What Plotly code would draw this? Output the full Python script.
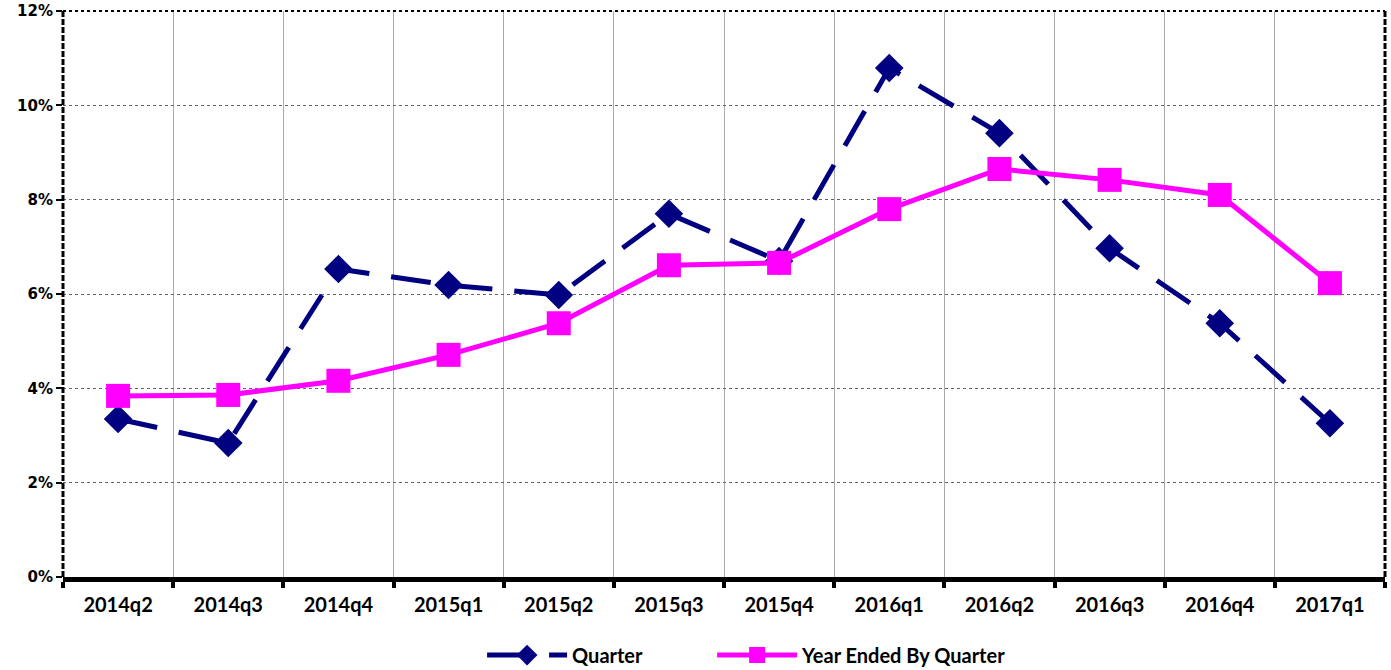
import plotly.graph_objects as go

categories = ["2014q2", "2014q3", "2014q4", "2015q1", "2015q2", "2015q3",
              "2015q4", "2016q1", "2016q2", "2016q3", "2016q4", "2017q1"]
quarter = [3.35, 2.84, 6.53, 6.19, 5.98, 7.70, 6.70, 10.79, 9.41, 6.97, 5.38, 3.26]
year_ended = [3.84, 3.86, 4.16, 4.71, 5.38, 6.61, 6.66, 7.80, 8.65, 8.42, 8.10, 6.23]
y_ticks = [0, 2, 4, 6, 8, 10, 12]
y_labels = ["0%", "2%", "4%", "6%", "8%", "10%", "12%"]

label_font = "Lato, Carlito, Calibri, sans-serif"
ytick_font = dict(family="DejaVu Sans, Verdana, sans-serif", size=15, color="black", weight="bold")

fig = go.Figure()
fig.add_trace(go.Scatter(
    x=categories, y=quarter, name="Quarter", mode="lines+markers", legend="legend",
    line=dict(color="#000080", width=5, dash="40px,22px"),
    marker=dict(symbol="diamond", size=22, color="#000080"),
))
fig.add_trace(go.Scatter(
    x=categories, y=year_ended, name="Year Ended By Quarter", mode="lines+markers", legend="legend2",
    line=dict(color="#FF00FF", width=5),
    marker=dict(symbol="square", size=24, color="#FF00FF"),
))

legend_font = dict(family=label_font, size=20, color="black", weight="bold")
fig.update_layout(
    width=1391, height=670,
    margin=dict(l=63, r=6, t=11, b=93, autoexpand=False),
    plot_bgcolor="white", paper_bgcolor="white",
    showlegend=True,
    legend=dict(orientation="h", x=0.317, xanchor="left", y=-0.138, yanchor="middle",
                font=legend_font, itemwidth=80),
    legend2=dict(orientation="h", x=0.491, xanchor="left", y=-0.138, yanchor="middle",
                 font=legend_font, itemwidth=80),
    xaxis=dict(
        type="category", tickson="boundaries", ticks="outside", ticklen=6, tickwidth=4,
        tickcolor="black", showgrid=True, gridcolor="#aaaaaa", gridwidth=1,
        showline=True, linecolor="black", linewidth=5, automargin=False,
        tickfont=dict(family=label_font, size=20, color="black", weight="bold"),
        range=[-0.5, 11.5],
    ),
    yaxis=dict(
        range=[0, 12], tickvals=y_ticks, ticktext=y_labels, ticks="outside", ticklen=6,
        tickcolor="black", tickwidth=2, showgrid=True, gridcolor="#666666", gridwidth=1, griddash="dot",
        showline=False, zeroline=False, automargin=False,
        tickfont=ytick_font,
    ),
    font=dict(family="DejaVu Sans", color="black"),
)
fig.update_xaxes(ticklabelstandoff=6)

# frame: dashed left/right, dotted top
fig.add_shape(type="line", xref="paper", yref="paper", x0=0, x1=0, y0=0, y1=1,
              line=dict(color="black", width=3, dash="6px,2px"))
fig.add_shape(type="line", xref="paper", yref="paper", x0=1, x1=1, y0=0, y1=1,
              line=dict(color="black", width=3, dash="6px,2px"))
fig.add_shape(type="line", xref="paper", yref="paper", x0=0, x1=1, y0=1, y1=1,
              line=dict(color="black", width=2, dash="3px,3px"))

fig.write_html("out.html", config={"displayModeBar": False},
               post_script="document.body.style.margin='0';document.body.style.overflow='hidden';")
